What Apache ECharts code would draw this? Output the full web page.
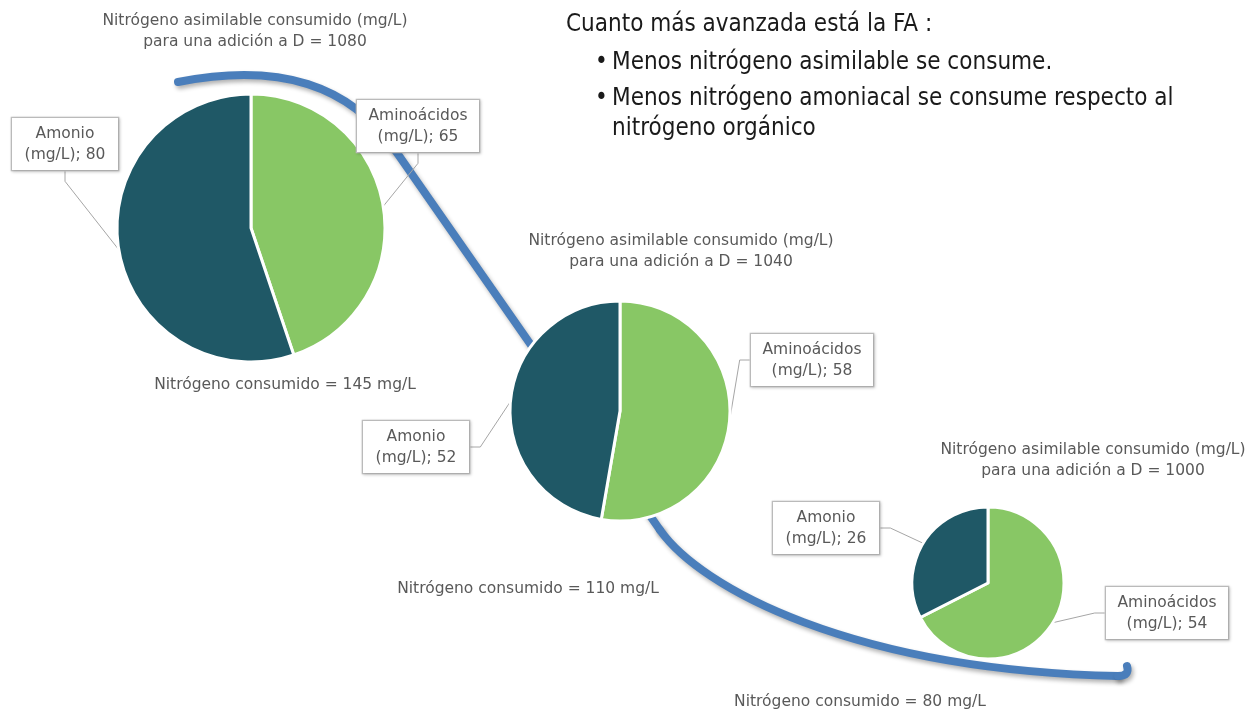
<!DOCTYPE html>
<html lang="es">
<head>
    <meta charset="UTF-8">
    <title>Nitrógeno consumido</title>
    <script src="https://cdn.jsdelivr.net/npm/echarts@6/dist/echarts.min.js"></script>
    <style>
        html, body { margin: 0; padding: 0; background: #fff; }
        #main { width: 1249px; height: 709px; }
    </style>
</head>
<body>
<div id="main"></div>
<script type="text/javascript">

    // datos
    var sliceNames = ['Aminoácidos', 'Amonio'];
    var aminoacidos = [65, 58, 54];
    var amonio = [80, 52, 26];
    var dosis = [1080, 1040, 1000];
    var consumido = [145, 110, 80];

    // layout
    var centers = [[251, 228], [620, 411], [988, 583]];
    var radii = [134, 110, 76];
    var labelPos = [
        [[418, 126], [65, 144]],
        [[812, 360], [416, 447]],
        [[1167, 613], [826, 528]]
    ];
    var labelWidths = [102, 86];
    var titlePos = [[255, 10], [681, 230], [1093, 439]];
    var totalPos = [[285, 377], [528, 581], [860, 694]];

    var font = 'DejaVu Sans';
    var grey = '#595959';
    var colors = ['#88c765', '#1f5866'];

    var chart = echarts.init(document.getElementById('main'));

    var titles = [];
    var series = [];
    for (var i = 0; i < 3; i++) {
        titles.push({
            text: 'Nitrógeno asimilable consumido (mg/L)\npara una adición a D = ' + dosis[i],
            left: titlePos[i][0], top: titlePos[i][1], textAlign: 'center', padding: 0,
            textStyle: {fontSize: 15.5, fontWeight: 'normal', color: grey, lineHeight: 21, fontFamily: font}
        });
        titles.push({
            text: 'Nitrógeno consumido = ' + consumido[i] + ' mg/L',
            left: totalPos[i][0], top: totalPos[i][1], textAlign: 'center', padding: 0,
            textStyle: {fontSize: 15.5, fontWeight: 'normal', color: grey, fontFamily: font}
        });
        (function (k) {
            series.push({
                type: 'pie',
                center: centers[k],
                radius: radii[k],
                startAngle: 90,
                clockwise: true,
                z: 5,
                itemStyle: {borderColor: '#fff', borderWidth: 3},
                label: {
                    show: true,
                    position: 'outside',
                    overflow: 'none',
                    formatter: '{b}\n(mg/L); {c}',
                    color: grey,
                    fontFamily: font,
                    fontSize: 15.5,
                    lineHeight: 21,
                    backgroundColor: '#fff',
                    borderColor: '#bfbfbf',
                    borderWidth: 1.3,
                    padding: [5, 10],
                    shadowBlur: 3,
                    shadowOffsetX: 1,
                    shadowOffsetY: 1,
                    shadowColor: 'rgba(0,0,0,0.15)',
                    align: 'center'
                },
                labelLine: {show: true, length: 10, length2: 10, lineStyle: {color: '#a6a6a6', width: 1}},
                labelLayout: function (params) {
                    var p = labelPos[k][params.dataIndex];
                    return {x: p[0], y: p[1], align: 'center', verticalAlign: 'middle'};
                },
                data: [
                    {name: sliceNames[0], value: aminoacidos[k], itemStyle: {color: colors[0]}, label: {width: labelWidths[0]}},
                    {name: sliceNames[1], value: amonio[k], itemStyle: {color: colors[1]}, label: {width: labelWidths[1]}}
                ]
            });
        })(i);
    }

    // flecha azul decorativa
    var arrowStyle = {fill: null, stroke: '#4a7ebb', lineWidth: 8, lineCap: 'round',
        shadowBlur: 4, shadowOffsetX: 2, shadowOffsetY: 3, shadowColor: 'rgba(0,0,0,0.3)'};

    var headFont = '24px "Liberation Sans Narrow", "DejaVu Sans Condensed", sans-serif';
    var headStyle = function (t) {
        return {text: t, font: headFont, fill: '#1a1a1a', verticalAlign: 'middle'};
    };

    var option = {
        animation: false,
        backgroundColor: '#fff',
        title: titles,
        graphic: [
            {type: 'bezierCurve', z: 0, shape: {x1: 178, y1: 82, cpx1: 280, cpy1: 62, cpx2: 350, cpy2: 85, x2: 395, y2: 150}, style: arrowStyle},
            {type: 'line', z: 0, shape: {x1: 395, y1: 150, x2: 660, y2: 530}, style: arrowStyle},
            {type: 'bezierCurve', z: 0, shape: {x1: 660, y1: 530, cpx1: 700, cpy1: 587, cpx2: 850, cpy2: 670, x2: 1118, y2: 676}, style: arrowStyle},
            {type: 'bezierCurve', z: 0, shape: {x1: 1118, y1: 676, cpx1: 1130, cpy1: 676, x2: 1127, y2: 666}, style: arrowStyle},
            {type: 'text', x: 566, y: 25, style: headStyle('Cuanto más avanzada está la FA :')},
            {type: 'text', x: 595, y: 63, style: headStyle('•')},
            {type: 'text', x: 612, y: 63, style: headStyle('Menos nitrógeno asimilable se consume.')},
            {type: 'text', x: 595, y: 99, style: headStyle('•')},
            {type: 'text', x: 612, y: 99, style: headStyle('Menos nitrógeno amoniacal se consume respecto al')},
            {type: 'text', x: 612, y: 129, style: headStyle('nitrógeno orgánico')}
        ],
        series: series
    };

    chart.setOption(option);

</script>
</body>
</html>
